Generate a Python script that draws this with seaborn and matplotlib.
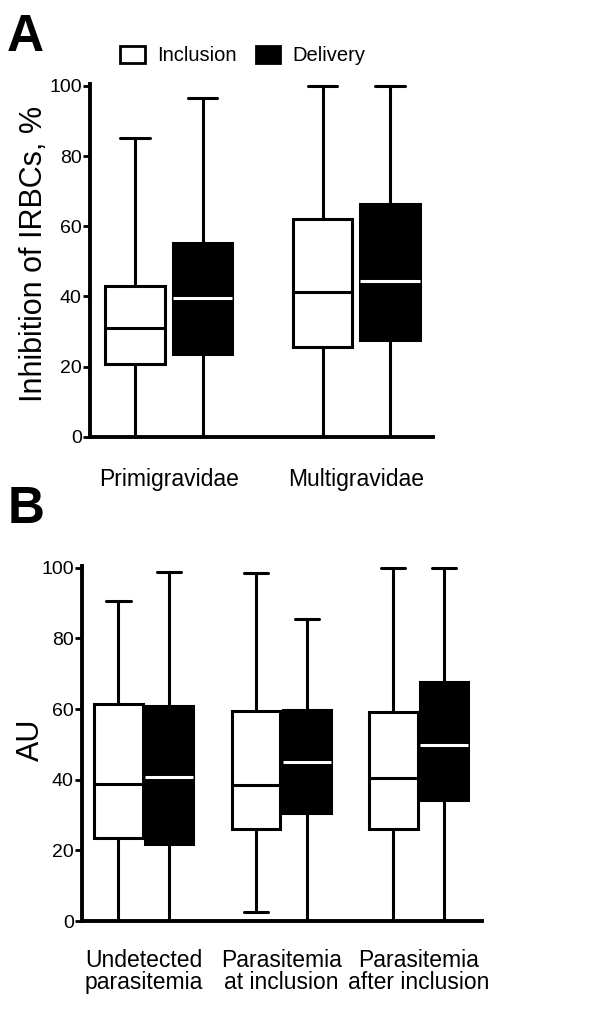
import numpy as np
import pandas as pd
import seaborn as sns
import matplotlib.pyplot as plt
from matplotlib.patches import Patch

# ---------------- data (five-number summaries) ----------------
stages = ["Inclusion", "Delivery"]

groups_a = ["Primigravidae", "Multigravidae"]
a_inclusion = [[0, 20.8, 31.0, 43.1, 85.0],
               [0, 25.5, 41.2, 62.2, 100.0]]
a_delivery = [[0, 23.6, 39.5, 55.3, 96.6],
              [0, 27.6, 44.5, 66.3, 100.0]]

groups_b = ["Undetected\nparasitemia", "Parasitemia\nat inclusion", "Parasitemia\nafter inclusion"]
b_inclusion = [[0, 23.6, 38.7, 61.3, 90.6],
               [2.6, 26.0, 38.5, 59.5, 98.5],
               [0, 26.0, 40.5, 59.3, 100.0]]
b_delivery = [[0, 21.7, 40.7, 60.8, 98.9],
              [0, 30.6, 44.9, 59.8, 85.4],
              [0, 34.2, 49.7, 67.6, 100.0]]

ylabel_a = "Inhibition of IRBCs, %"
ylabel_b = "AU"
yticks = [0, 20, 40, 60, 80, 100]


def make_df(groups, incl, deliv):
    rows = []
    for g, vi, vd in zip(groups, incl, deliv):
        for v in vi:
            rows.append((g, "Inclusion", v))
        for v in vd:
            rows.append((g, "Delivery", v))
    return pd.DataFrame(rows, columns=["group", "stage", "value"])


df_a = make_df(groups_a, a_inclusion, a_delivery)
df_b = make_df(groups_b, b_inclusion, b_delivery)

# ---------------- style ----------------
sns.set_theme(style="ticks")
plt.rcParams["font.family"] = ["Liberation Sans", "DejaVu Sans"]
plt.rcParams["text.color"] = "black"
plt.rcParams["axes.labelcolor"] = "black"
plt.rcParams["xtick.color"] = "black"
plt.rcParams["ytick.color"] = "black"

fig = plt.figure(figsize=(6.0, 10.27), dpi=100)
ax_a = fig.add_axes([0.150, 0.5745, 0.572, 0.3437])
ax_b = fig.add_axes([0.1367, 0.1032, 0.6667, 0.3457])

palette = {"Inclusion": "white", "Delivery": "black"}
LW = 2.2


def draw(ax, df, order, width, gap, xlim, ylabel, xpad, lab_xy):
    sns.boxplot(data=df, x="group", y="value", hue="stage", order=order,
                hue_order=stages, palette=palette, whis=(0, 100), width=width,
                gap=gap, linecolor="black", linewidth=LW, fliersize=0,
                showfliers=False, legend=False, ax=ax)
    # median colours: black on white boxes, white on black boxes
    for cont, col in zip(ax.containers, ["black", "white"]):
        for m in cont.medians:
            m.set_color(col)
            m.set_linewidth(LW)
    ax.set_ylim(0, 100.5)
    ax.set_xlim(*xlim)
    ax.set_yticks(yticks)
    ax.set_xlabel("")
    ax.set_ylabel(ylabel, fontsize=22, va="center", ha="center")
    ax.yaxis.set_label_coords(*lab_xy)
    for s in ["top", "right"]:
        ax.spines[s].set_visible(False)
    for s in ["left", "bottom"]:
        ax.spines[s].set_linewidth(2.8)
        ax.spines[s].set_color("black")
    ax.tick_params(axis="y", length=5, width=2.0, labelsize=14, pad=1)
    ax.tick_params(axis="x", length=0, labelsize=16.5, pad=xpad)
    for lab in ax.get_xticklabels():
        lab.set_linespacing(0.95)


draw(ax_a, df_a, groups_a, 0.72, 0.12, (-0.42, 1.41), ylabel_a, 22, (-0.163, 0.52))
draw(ax_b, df_b, groups_b, 0.74, 0.05, (-0.45, 2.46), ylabel_b, 20, (-0.128, 0.51))

# legend
handles = [Patch(facecolor="white", edgecolor="black", linewidth=2.0, label="Inclusion"),
           Patch(facecolor="black", edgecolor="black", linewidth=2.0, label="Delivery")]
fig.legend(handles=handles, loc="center", bbox_to_anchor=(0.405, 0.946), ncol=2,
           frameon=False, fontsize=14.5, handlelength=1.2, handleheight=0.9,
           handletextpad=0.6, columnspacing=1.0)

# panel letters
fig.text(0.012, 0.963, "A", fontsize=37, fontweight="bold", va="center", ha="left")
fig.text(0.012, 0.504, "B", fontsize=37, fontweight="bold", va="center", ha="left")

fig.savefig("out.png", dpi=100, facecolor="white")
